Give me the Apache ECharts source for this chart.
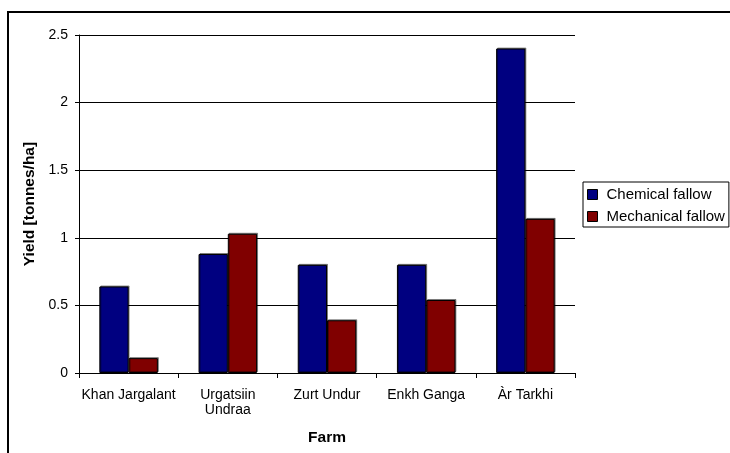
<!DOCTYPE html>
<html>
<head>
<meta charset="utf-8">
<title>Yield by farm</title>
<script src="https://cdn.jsdelivr.net/npm/echarts@6/dist/echarts.min.js"></script>
<style>
  html, body { margin: 0; padding: 0; background: #fff; }
  #chart { width: 730px; height: 453px; }
</style>
</head>
<body>
<div id="chart"></div>
<script>
// Farms and yields (tonnes/ha) for each fallow treatment
const farms = ['Khan Jargalant', 'Urgatsiin\nUndraa', 'Zurt Undur', 'Enkh Ganga', 'Àr Tarkhi'];
const chemicalFallow = [0.64, 0.88, 0.80, 0.80, 2.40];
const mechanicalFallow = [0.11, 1.03, 0.39, 0.54, 1.14];
const seriesNames = ['Chemical fallow', 'Mechanical fallow'];
const seriesColors = ['#000080', '#800000'];

const FONT = 'Liberation Sans, Arial, sans-serif';

const chart = echarts.init(document.getElementById('chart'), null, { renderer: 'canvas' });

const barStyle = (color) => ({
  color: color,
  borderColor: '#000',
  borderWidth: 1,
  shadowColor: 'rgba(0,0,0,0.4)',
  shadowOffsetX: 1,
  shadowOffsetY: -1,
  shadowBlur: 0
});

chart.setOption({
  animation: false,
  backgroundColor: '#fff',
  textStyle: { fontFamily: FONT },
  // chart-area frame
  graphic: [{
    type: 'rect',
    shape: { x: 8, y: 12, width: 740, height: 460 },
    style: { fill: 'none', stroke: '#000', lineWidth: 2 },
    silent: true,
    z: 0
  }],
  grid: { left: 79, right: 155, top: 35, bottom: 80, containLabel: false },
  legend: {
    orient: 'vertical',
    left: 583,
    top: 182,
    itemWidth: 10,
    itemHeight: 10,
    itemGap: 7,
    icon: 'rect',
    padding: [5, 4, 3, 4],
    borderColor: '#000',
    borderWidth: 1,
    textStyle: { fontFamily: FONT, fontSize: 15, lineHeight: 15, color: '#000', padding: [0, 0, 0, 4] },
    itemStyle: { borderColor: '#000', borderWidth: 1 },
    data: seriesNames
  },
  xAxis: {
    type: 'category',
    data: farms,
    name: 'Farm',
    nameLocation: 'middle',
    nameGap: 57,
    nameTextStyle: { fontFamily: FONT, fontSize: 15.5, fontWeight: 'bold', color: '#000' },
    axisLine: { lineStyle: { color: '#000', width: 1 } },
    axisTick: { show: true, length: 5, alignWithLabel: false, lineStyle: { color: '#000' } },
    axisLabel: { fontFamily: FONT, fontSize: 14, color: '#000', margin: 15, lineHeight: 15, interval: 0 }
  },
  yAxis: {
    type: 'value',
    min: 0,
    max: 2.5,
    interval: 0.5,
    name: 'Yield [tonnes/ha]',
    nameLocation: 'middle',
    nameGap: 38,
    nameRotate: 90,
    nameTextStyle: { fontFamily: FONT, fontSize: 15.5, fontWeight: 'bold', color: '#000' },
    axisLine: { show: true, lineStyle: { color: '#000', width: 1 } },
    axisTick: { show: true, length: 4, lineStyle: { color: '#000' } },
    axisLabel: { fontFamily: FONT, fontSize: 14, color: '#000', margin: 11 },
    splitLine: { show: true, lineStyle: { color: '#000', width: 1 } }
  },
  series: [
    {
      name: seriesNames[0],
      type: 'bar',
      data: chemicalFallow,
      barGap: '0%',
      barCategoryGap: '41%',
      itemStyle: barStyle(seriesColors[0])
    },
    {
      name: seriesNames[1],
      type: 'bar',
      data: mechanicalFallow,
      barGap: '0%',
      barCategoryGap: '41%',
      itemStyle: barStyle(seriesColors[1])
    }
  ]
});
</script>
</body>
</html>
